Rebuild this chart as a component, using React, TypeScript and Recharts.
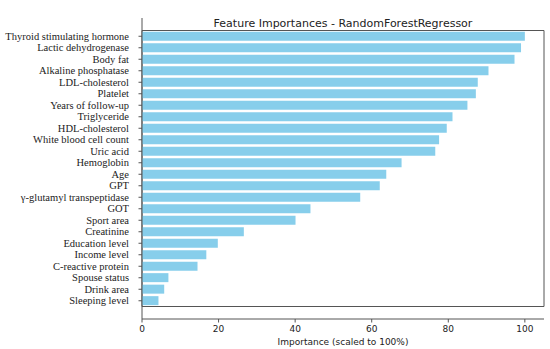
import React from 'react';
import { BarChart, Bar, XAxis, YAxis, Label, ReferenceArea } from 'recharts';

const features: string[] = [
  'Thyroid stimulating hormone',
  'Lactic dehydrogenase',
  'Body fat',
  'Alkaline phosphatase',
  'LDL-cholesterol',
  'Platelet',
  'Years of follow-up',
  'Triglyceride',
  'HDL-cholesterol',
  'White blood cell count',
  'Uric acid',
  'Hemoglobin',
  'Age',
  'GPT',
  'γ-glutamyl transpeptidase',
  'GOT',
  'Sport area',
  'Creatinine',
  'Education level',
  'Income level',
  'C-reactive protein',
  'Spouse status',
  'Drink area',
  'Sleeping level',
];

const importances: number[] = [
  100, 99.0, 97.3, 90.5, 87.7, 87.2, 85.0, 81.1, 79.6, 77.6, 76.6, 67.8,
  63.8, 62.1, 57.0, 44.0, 40.1, 26.6, 19.8, 16.8, 14.5, 6.9, 5.8, 4.3,
];

const xTicks: number[] = [0, 20, 40, 60, 80, 100];

const data = features.map((name, i) => ({ name, value: importances[i] }));

const spine = '#555555';

const YTick = (props: any) => {
  const { x, y, payload } = props;
  return (
    <text
      x={x}
      y={y}
      dy="0.35em"
      textAnchor="end"
      fontFamily="Liberation Serif"
      fontSize={10.5}
      fill="#222"
    >
      {payload.value}
    </text>
  );
};

export default function App() {
  return (
    <div style={{ position: 'absolute', left: 0, top: 0, width: 550, height: 349, background: '#fff' }}>
      <BarChart
        width={550}
        height={349}
        data={data}
        layout="vertical"
        margin={{ top: 18, right: 6, bottom: 0, left: 0 }}
        barCategoryGap="10%"
      >
        <XAxis
          type="number"
          domain={[0, 105]}
          ticks={xTicks}
          height={30}
          tickSize={3.5}
          tickMargin={3}
          tick={{ fontFamily: 'DejaVu Sans', fontSize: 9, fill: '#222' }}
          tickLine={{ stroke: spine }}
          axisLine={{ stroke: spine, strokeWidth: 1 }}
        >
          <Label
            value="Importance (scaled to 100%)"
            position="insideBottom"
            offset={4}
            style={{ fontFamily: 'DejaVu Sans', fontSize: 9, fill: '#222' }}
          />
        </XAxis>
        <YAxis
          type="category"
          dataKey="name"
          width={142}
          interval={0}
          padding={{ top: 12.5, bottom: 12.5 }}
          tickSize={3.5}
          tickMargin={9.5}
          tick={<YTick />}
          tickLine={{ stroke: spine }}
          axisLine={{ stroke: spine, strokeWidth: 1 }}
        />
        <Bar dataKey="value" fill="#87CEEB" isAnimationActive={false} />
        <ReferenceArea
          x1={0}
          x2={105}
          fill="none"
          fillOpacity={0}
          stroke={spine}
          strokeWidth={1}
          strokeOpacity={1}
          ifOverflow="visible"
        >
          <Label
            value="Feature Importances - RandomForestRegressor"
            position="top"
            offset={4}
            style={{ fontFamily: 'DejaVu Sans', fontSize: 11, fill: '#222' }}
          />
        </ReferenceArea>
      </BarChart>
    </div>
  );
}
